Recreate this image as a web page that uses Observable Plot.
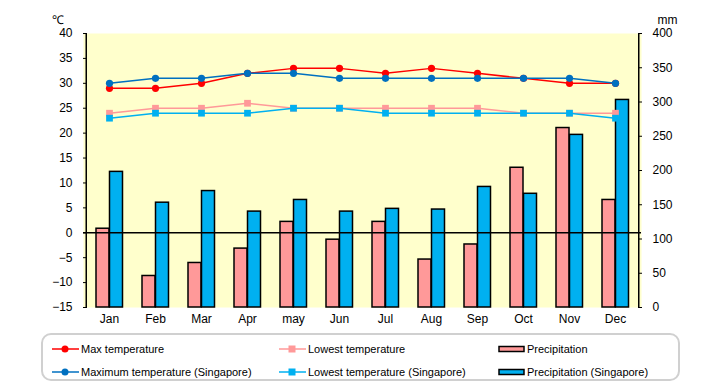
<!DOCTYPE html>
<html>
<head>
<meta charset="utf-8">
<script src="https://cdn.jsdelivr.net/npm/d3@7"></script>
<script src="https://cdn.jsdelivr.net/npm/@observablehq/plot@0.6"></script>
<style>
  html, body { margin: 0; padding: 0; background: white; }
  #wrap { position: relative; width: 720px; height: 385px; font-family: "Liberation Sans", Arial, sans-serif; }
  #legend { position: absolute; left: 41px; top: 333px; width: 639px; height: 48px; border: 2px solid #d0d0d0; border-radius: 10px; box-sizing: border-box; }
  .item { position: absolute; font-size: 11px; color: black; white-space: nowrap; display: flex; align-items: center; height: 16px; }
  .item svg { display: block; margin-right: 2px; }
</style>
</head>
<body>
<div id="wrap">
  <div id="chart"></div>
  <div id="legend"></div>
</div>
<script>
const months = ["Jan","Feb","Mar","Apr","may","Jun","Jul","Aug","Sep","Oct","Nov","Dec"];
const maxTemp = [29,29,30,32,33,33,32,33,32,31,30,30];
const lowTemp = [24,25,25,26,25,25,25,25,25,24,24,24];
const precip = [115,46,65,86,125,99,125,70,92,204,262,157];
const sgMaxTemp = [30,31,31,32,32,31,31,31,31,31,31,30];
const sgLowTemp = [23,24,24,24,25,25,24,24,24,24,24,23];
const sgPrecip = [198,153,170,140,157,140,144,143,176,166,252,303];
const tempTicks = [-15,-10,-5,0,5,10,15,20,25,30,35,40];
const mmTicks = [0,50,100,150,200,250,300,350,400];
const seriesNames = ["Max temperature","Lowest temperature","Precipitation",
  "Maximum temperature (Singapore)","Lowest temperature (Singapore)","Precipitation (Singapore)"];

const colors = {max:"#ff0000", low:"#ff9999", sgMax:"#0070c0", sgLow:"#00b0f0", pr:"#ff9999", sgPr:"#00b0f0"};

// precipitation (0..400 mm) shares the temperature scale (-15..40 °C)
const tMin = -15, tMax = 40, mmMax = 400;
const toTemp = mm => tMin + mm * (tMax - tMin) / mmMax;
const toMm = t => (t - tMin) * mmMax / (tMax - tMin);

const rows = months.map((m, i) => ({
  month: m, max: maxTemp[i], low: lowTemp[i], pr: precip[i],
  sgMax: sgMaxTemp[i], sgLow: sgLowTemp[i], sgPr: sgPrecip[i]
}));

const W = 720, ML = 83, MR = 79;
const band = (W - ML - MR) / months.length;
const barW = 13.5, c = 23.5;

const chart = Plot.plot({
  width: W, height: 330,
  marginTop: 33, marginBottom: 23, marginLeft: ML, marginRight: MR,
  style: {fontFamily: "Liberation Sans, Arial, sans-serif", fontSize: "11px", color: "black", background: "white"},
  x: {domain: months, padding: 0, label: null},
  y: {domain: [tMin, tMax], label: null},
  marks: [
    Plot.frame({fill: "#ffffcc", stroke: "none"}),
    Plot.barY(rows, {x: "month", y1: () => toTemp(0), y2: d => toTemp(d.pr), fill: colors.pr,
      stroke: "black", strokeWidth: 1.5, insetLeft: c - barW, insetRight: band - c}),
    Plot.barY(rows, {x: "month", y1: () => toTemp(0), y2: d => toTemp(d.sgPr), fill: colors.sgPr,
      stroke: "black", strokeWidth: 1.5, insetLeft: c, insetRight: band - c - barW}),
    Plot.ruleY([0], {stroke: "black", strokeWidth: 1.5}),
    Plot.line(rows, {x: "month", y: "max", stroke: colors.max, strokeWidth: 1.5}),
    Plot.dot(rows, {x: "month", y: "max", fill: colors.max, r: 3.6, symbol: "circle"}),
    Plot.line(rows, {x: "month", y: "low", stroke: colors.low, strokeWidth: 1.5}),
    Plot.dot(rows, {x: "month", y: "low", fill: colors.low, r: 3.8, symbol: "square"}),
    Plot.line(rows, {x: "month", y: "sgMax", stroke: colors.sgMax, strokeWidth: 1.5}),
    Plot.dot(rows, {x: "month", y: "sgMax", fill: colors.sgMax, r: 3.6, symbol: "circle"}),
    Plot.line(rows, {x: "month", y: "sgLow", stroke: colors.sgLow, strokeWidth: 1.5}),
    Plot.dot(rows, {x: "month", y: "sgLow", fill: colors.sgLow, r: 3.8, symbol: "square"}),
    // left axis
    Plot.axisY({anchor: "left", ticks: tempTicks, tickSize: 4, dx: 4, text: null, stroke: "black"}),
    Plot.axisY({anchor: "left", ticks: tempTicks, tickSize: 0, tickPadding: 11, fontSize: 12, label: null}),
    Plot.ruleX([months[0]], {dx: -band / 2, stroke: "black", strokeWidth: 1.5}),
    // right axis (mm)
    Plot.axisY({anchor: "right", ticks: mmTicks.map(toTemp), tickSize: 4, dx: -4, text: null, stroke: "black"}),
    Plot.axisY({anchor: "right", ticks: mmTicks.map(toTemp), tickSize: 0, tickPadding: 11, fontSize: 12,
      tickFormat: t => String(Math.round(toMm(t))), label: null}),
    Plot.ruleX([months[months.length - 1]], {dx: band / 2, stroke: "black", strokeWidth: 1.5}),
    // x axis
    Plot.axisX({tickSize: 0, tickPadding: 7, fontSize: 12, label: null}),
    // unit labels
    Plot.text(["℃"], {frameAnchor: "top-left", dx: -26, dy: -18, fontSize: 12, textAnchor: "middle"}),
    Plot.text(["mm"], {frameAnchor: "top-right", dx: 26, dy: -18, fontSize: 12, textAnchor: "middle"})
  ]
});
document.getElementById("chart").appendChild(chart);

// legend
const legend = document.getElementById("legend");
function lineSwatch(color, shape) {
  const m = shape === "circle"
    ? `<circle cx="13" cy="6" r="3.5" fill="${color}"/>`
    : `<rect x="9.5" y="2.5" width="7" height="7" fill="${color}"/>`;
  return `<svg width="27" height="12"><line x1="0" y1="6" x2="27" y2="6" stroke="${color}" stroke-width="1.5"/>${m}</svg>`;
}
function barSwatch(color) {
  return `<svg width="27" height="12"><rect x="1" y="3.5" width="25" height="5" fill="${color}" stroke="black" stroke-width="1.5"/></svg>`;
}
const items = [
  {name: seriesNames[0], sw: lineSwatch(colors.max, "circle"), x: 9, y: 6},
  {name: seriesNames[1], sw: lineSwatch(colors.low, "square"), x: 236, y: 6},
  {name: seriesNames[2], sw: barSwatch(colors.pr), x: 455, y: 6},
  {name: seriesNames[3], sw: lineSwatch(colors.sgMax, "circle"), x: 9, y: 29},
  {name: seriesNames[4], sw: lineSwatch(colors.sgLow, "square"), x: 236, y: 29},
  {name: seriesNames[5], sw: barSwatch(colors.sgPr), x: 455, y: 29}
];
for (const it of items) {
  const d = document.createElement("div");
  d.className = "item";
  d.style.left = it.x + "px";
  d.style.top = it.y + "px";
  d.innerHTML = it.sw + `<span>${it.name}</span>`;
  legend.appendChild(d);
}
</script>
</body>
</html>
